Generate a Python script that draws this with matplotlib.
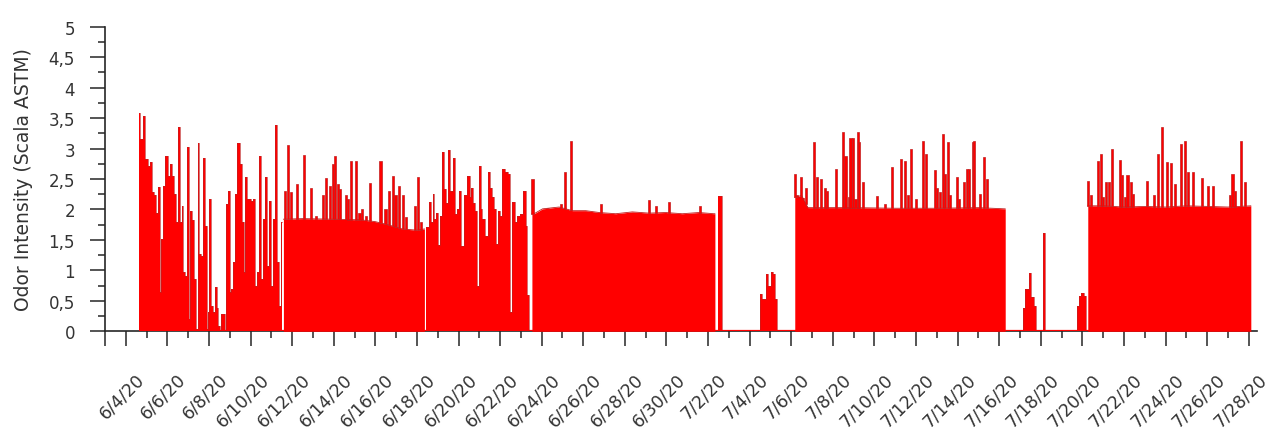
import datetime as dt
import numpy as np
import matplotlib
matplotlib.use("Agg")
import matplotlib.pyplot as plt
from matplotlib.ticker import FixedLocator, MultipleLocator, FuncFormatter
from matplotlib.transforms import ScaledTranslation

# x values are days since 6/3/20, y values are odor intensity (ASTM scale)
start = dt.date(2020, 6, 3)

# 6/4 - 6/12: irregular readings
early_t = [1.65, 1.76, 1.87, 2.00, 2.13, 2.22, 2.32, 2.40, 2.50, 2.58, 2.67, 2.75, 2.85,
           2.96, 3.09, 3.20, 3.28, 3.38, 3.44, 3.54, 3.63, 3.73, 3.81, 3.89, 3.98, 4.06,
           4.14, 4.24, 4.32, 4.40, 4.50, 4.59, 4.69, 4.78, 4.86, 4.93, 4.98, 5.06, 5.14,
           5.23, 5.33, 5.42, 5.49, 5.55, 5.65, 5.73, 5.79, 5.84, 5.95, 6.03, 6.13, 6.22,
           6.29, 6.42, 6.54, 6.64, 6.70, 6.80, 6.90, 6.99, 7.09, 7.18, 7.25, 7.34, 7.46,
           7.55, 7.65, 7.73, 7.82, 7.92, 8.02, 8.11, 8.24, 8.34, 8.43, 8.53]
early_v = [3.58, 3.16, 3.53, 2.83, 2.72, 2.78, 2.28, 2.23, 1.95, 2.37, 0.64, 1.52, 2.39,
           2.87, 2.55, 2.75, 2.55, 2.25, 1.79, 3.35, 1.79, 2.05, 0.97, 0.91, 3.02, 0.20,
           1.98, 1.82, 0.86, 0.04, 3.09, 1.27, 1.24, 2.84, 1.73, 0.04, 0.31, 2.17, 0.42,
           0.31, 0.72, 0.39, 0.09, 0.00, 0.28, 0.28, 0.00, 2.09, 2.31, 0.64, 0.69, 1.13,
           2.25, 3.09, 2.75, 1.79, 0.97, 2.53, 2.17, 2.17, 2.14, 2.17, 0.75, 0.97, 2.87,
           0.86, 1.84, 2.53, 1.08, 2.14, 0.75, 1.84, 3.38, 1.13, 0.42, 1.79]

# 6/12 - 6/18 plateau
b_base_t = [8.58, 9.50, 11.00, 12.30, 13.00, 13.60, 14.30, 15.00, 15.36]
b_base_v = [1.84, 1.85, 1.84, 1.83, 1.80, 1.75, 1.68, 1.66, 1.68]
b_peak_t = [8.64, 8.80, 8.96, 9.23, 9.57, 9.92, 10.13, 10.48, 10.64, 10.80, 10.96, 11.07,
            11.20, 11.31, 11.57, 11.68, 11.83, 12.08, 12.24, 12.37, 12.53, 12.75, 13.25,
            13.49, 13.65, 13.84, 13.97, 14.13, 14.35, 14.48, 14.93, 15.06, 15.19]
b_peak_v = [2.31, 3.05, 2.28, 2.42, 2.89, 2.36, 1.90, 2.23, 2.51, 2.39, 2.75, 2.88,
            2.42, 2.34, 2.23, 2.17, 2.80, 2.80, 1.95, 2.01, 1.90, 2.44, 2.80,
            2.01, 2.31, 2.55, 2.23, 2.38, 2.23, 1.87, 2.06, 2.53, 1.79]

# 6/18 - 6/23: irregular readings
c_t = [15.42, 15.54, 15.63, 15.71, 15.79, 15.87, 15.95, 16.05, 16.15, 16.24, 16.37, 16.47,
       16.56, 16.67, 16.77, 16.88, 16.98, 17.07, 17.20, 17.33, 17.49, 17.57, 17.65, 17.73,
       17.81, 17.94, 18.03, 18.11, 18.19, 18.32, 18.48, 18.58, 18.67, 18.74, 18.83, 18.93,
       19.04, 19.15, 19.31, 19.44, 19.52, 19.63, 19.76, 19.89, 20.02, 20.18, 20.27, 20.35,
       20.43]
c_v = [1.71, 1.71, 2.12, 1.80, 2.25, 1.85, 1.95, 1.41, 1.90, 2.94, 2.34, 2.10,
       2.98, 2.30, 2.84, 1.93, 2.00, 2.31, 1.40, 2.23, 2.55, 2.20, 2.36, 2.10,
       1.98, 0.75, 2.72, 2.00, 1.84, 1.57, 2.62, 2.36, 2.20, 2.01, 1.43, 1.98,
       1.90, 2.66, 2.62, 2.58, 0.31, 2.12, 1.79, 1.90, 1.93, 2.31, 1.73, 0.60,
       0.00]

# 6/23 - 7/2 plateau
d_base_t = [20.53, 20.64, 21.04, 21.84, 22.48, 23.12, 23.76, 24.56, 25.36, 26.16, 26.96,
            27.76, 28.56, 29.28, 29.33]
d_base_v = [1.93, 1.93, 2.01, 2.04, 1.98, 1.98, 1.95, 1.93, 1.96, 1.94, 1.95,
            1.93, 1.95, 1.93, 1.93]
d_peak_t = [20.56, 21.28, 21.95, 22.13, 22.43, 23.84, 26.16, 26.48, 27.12, 28.61]
d_peak_v = [2.50, 2.02, 2.09, 2.62, 3.13, 2.09, 2.16, 2.05, 2.13, 2.05]

# 7/2 - 7/21: sparse low readings
g_t = [29.49, 29.57, 29.65, 29.70, 31.48, 31.53, 31.69, 31.85, 31.96, 32.09, 32.20,
       32.28, 32.33, 44.12, 44.17, 44.33, 44.49, 44.60, 44.73, 44.78, 45.08, 45.16,
       45.24, 46.74, 46.78, 46.89, 47.00, 47.13, 47.19]
g_v = [2.22, 2.22, 2.22, 0.00, 0.00, 0.61, 0.53, 0.94, 0.75, 0.97, 0.94,
       0.53, 0.00, 0.00, 0.39, 0.69, 0.96, 0.56, 0.42, 0.00, 0.00, 1.62,
       0.00, 0.00, 0.42, 0.58, 0.63, 0.58, 0.00]

# 7/6 - 7/16 plateau
e_base_t = [33.17, 33.50, 33.80, 34.30, 36.00, 38.00, 40.00, 42.00, 43.29]
e_base_v = [2.20, 2.23, 2.03, 2.03, 2.03, 2.02, 2.02, 2.03, 2.01]
e_peak_t = [33.17, 33.29, 33.48, 33.57, 33.72, 34.09, 34.26, 34.45, 34.61, 34.73, 35.16,
            35.49, 35.61, 35.77, 35.85, 35.96, 36.09, 36.20, 36.28, 36.45, 37.13, 37.49,
            37.85, 38.29, 38.49, 38.61, 38.77, 39.00, 39.32, 39.48, 39.93, 40.02, 40.17,
            40.29, 40.41, 40.53, 40.65, 40.98, 41.08, 41.29, 41.45, 41.56, 41.72, 41.81,
            42.09, 42.28, 42.41]
e_peak_v = [2.58, 2.23, 2.54, 2.17, 2.35, 3.10, 2.53, 2.50, 2.36, 2.31, 2.66,
            3.27, 2.88, 2.20, 3.17, 3.17, 2.17, 3.27, 3.10, 2.45, 2.22, 2.09,
            2.70, 2.83, 2.80, 2.23, 3.00, 2.17, 3.13, 2.91, 2.65, 2.36, 2.28,
            3.24, 2.58, 3.11, 2.23, 2.53, 2.17, 2.45, 2.66, 2.66, 3.10, 3.13,
            2.25, 2.86, 2.50]

# 7/21 - 7/28 plateau
f_base_t = [47.26, 48.00, 49.00, 50.00, 51.00, 52.00, 53.00, 54.00, 55.10]
f_base_v = [2.06, 2.06, 2.04, 2.05, 2.04, 2.06, 2.05, 2.04, 2.06]
f_peak_t = [47.25, 47.42, 47.74, 47.89, 48.01, 48.12, 48.28, 48.41, 48.81, 48.92, 49.05,
            49.17, 49.32, 49.42, 50.09, 50.46, 50.65, 50.81, 51.05, 51.25, 51.45, 51.74,
            51.93, 52.06, 52.33, 52.76, 53.05, 53.26, 54.09, 54.22, 54.36, 54.65, 54.81]
f_peak_v = [2.47, 2.23, 2.80, 2.91, 2.20, 2.45, 2.45, 3.00, 2.81, 2.56, 2.20,
            2.57, 2.45, 2.25, 2.47, 2.23, 2.91, 3.35, 2.78, 2.77, 2.42, 3.08,
            3.13, 2.61, 2.61, 2.51, 2.38, 2.38, 2.23, 2.58, 2.31, 3.13, 2.45]

red = "#ff0000"
edge = "#c02020"
txt = "#333333"

fig = plt.figure(figsize=(12.74, 4.35), dpi=100)
ax = fig.add_axes([0.0824, 0.2361, 0.9043, 0.7002])

# step-like irregular parts
for t, v in [(early_t, early_v), (c_t, c_v), (g_t, g_v)]:
    ax.fill_between(t, v, step="mid", color=red, lw=0, zorder=3)
    ax.step(t, v, where="mid", color=edge, lw=0.45, zorder=4)

# plateaus with narrow peaks
for bt, bv, pt, pv in [(b_base_t, b_base_v, b_peak_t, b_peak_v),
                       (d_base_t, d_base_v, d_peak_t, d_peak_v),
                       (e_base_t, e_base_v, e_peak_t, e_peak_v),
                       (f_base_t, f_base_v, f_peak_t, f_peak_v)]:
    ax.fill_between(bt, bv, color=red, lw=0, zorder=3)
    ax.plot(bt, bv, color=edge, lw=0.6, zorder=4)
    bottom = np.interp(pt, bt, bv)
    ax.bar(pt, np.array(pv) - bottom, bottom=bottom, width=0.1, color=red,
           edgecolor=edge, linewidth=0.5, zorder=4)

# zero readings along the whole logged period
ax.plot([early_t[0], f_base_t[-1]], [0, 0], color=red, lw=1.6, zorder=5,
        solid_capstyle="butt")

ax.set_xlim(0, 55.4)
ax.set_ylim(0, 5)

for s in ["top", "right"]:
    ax.spines[s].set_visible(False)
for s in ["left", "bottom"]:
    ax.spines[s].set_color("#262626")
    ax.spines[s].set_linewidth(1.2)
    ax.spines[s].set_zorder(2)

ax.xaxis.set_major_locator(FixedLocator([0] + list(range(1, 56, 2))))
ax.xaxis.set_minor_locator(FixedLocator(range(0, 56)))


def date_label(x, pos):
    if x < 0.5:
        return ""
    d = start + dt.timedelta(days=int(round(x)))
    return f"{d.month}/{d.day}/20"


ax.xaxis.set_major_formatter(FuncFormatter(date_label))
ax.yaxis.set_major_locator(MultipleLocator(0.5))
ax.yaxis.set_minor_locator(MultipleLocator(0.25))
ax.yaxis.set_major_formatter(FuncFormatter(lambda y, pos: f"{y:g}".replace(".", ",")))

ax.tick_params(axis="both", which="major", direction="out", length=10.5, width=1.1,
               color="#262626", labelcolor=txt, labelsize=12)
ax.tick_params(axis="both", which="minor", direction="out", length=5, width=1.1,
               color="#262626")
ax.tick_params(axis="y", which="major", pad=11)
ax.tick_params(axis="x", which="major", pad=17, labelsize=12.5)

shift = ScaledTranslation(22 / 100, 0, fig.dpi_scale_trans)
for lbl in ax.get_xticklabels():
    lbl.set_rotation(45)
    lbl.set_ha("right")
    lbl.set_transform(lbl.get_transform() + shift)

ax.set_ylabel("Odor Intensity (Scala ASTM)", fontsize=13.5, color=txt)
ax.yaxis.set_label_coords(-0.0625, 0.5)

fig.savefig("out.png", dpi=100)
